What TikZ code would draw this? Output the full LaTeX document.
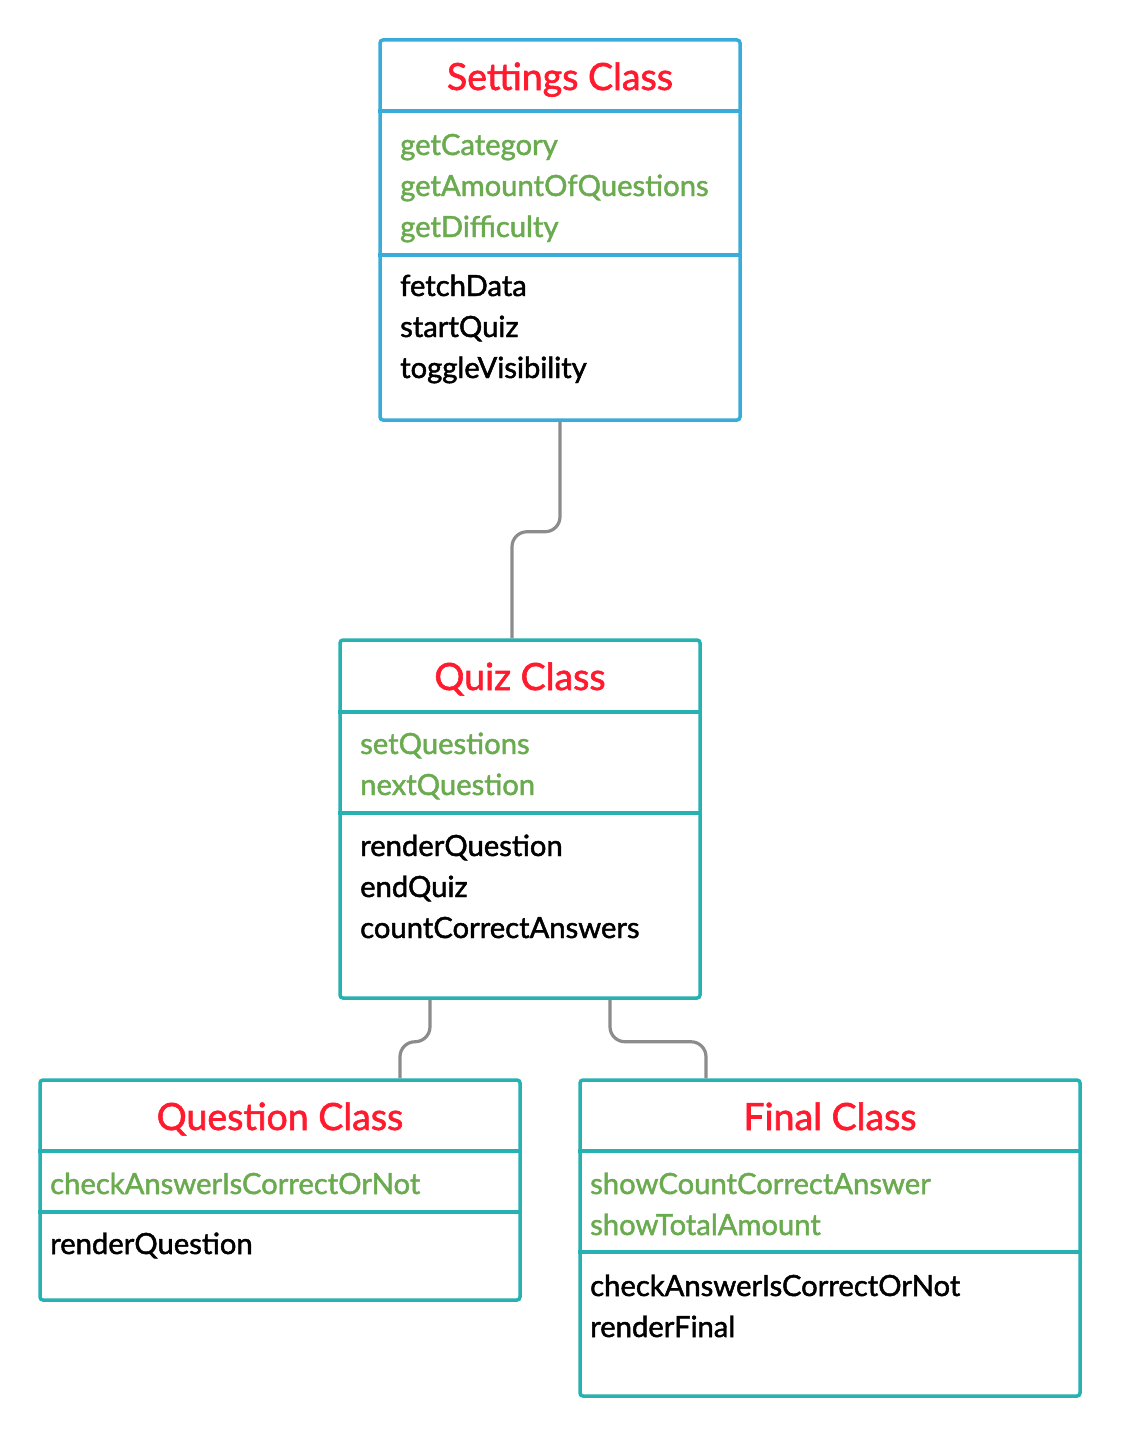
\documentclass[tikz,border=0pt]{standalone}
\usepackage{fontspec}
\setmainfont{Lato}
\newfontfamily\membfont{Lato}[FakeBold = 1.6]
\usepackage{xcolor}
\usetikzlibrary{calc}

\definecolor{setblue}{HTML}{3AACD9}
\definecolor{clsteal}{HTML}{27B1B1}
\definecolor{titlered}{HTML}{FF1A2E}
\definecolor{propgreen}{HTML}{6AAB4F}
\definecolor{linkgray}{HTML}{8C8C8C}

\tikzset{
	classbox/.style = {rectangle, draw = clsteal, line width = 3.5pt, rounded corners = 3pt, inner sep = 0pt},
	divider/.style = {draw = clsteal, line width = 3.5pt},
	title/.style = {anchor = base, text = titlered, font = \membfont\fontsize{37.5}{44}\selectfont, inner sep = 0pt},
	prop/.style = {anchor = base west, text = propgreen, font = \membfont\fontsize{29.2}{33}\selectfont, inner sep = 0pt},
	meth/.style = {anchor = base west, text = black, font = \membfont\fontsize{29.2}{33}\selectfont, inner sep = 0pt},
	link/.style = {draw = linkgray, line width = 3.2pt, rounded corners = 15pt}
}

\begin{document}
\begin{tikzpicture}[x = 1pt, y = -1pt]
	\useasboundingbox (0, 0) rectangle (1121, 1437);
	
	% boxes
	\node (settings) [classbox, draw = setblue, minimum width = 360pt, minimum height = 380pt] at (560, 230) {};
	\node (quiz) [classbox, minimum width = 360pt, minimum height = 358pt] at (520, 819) {};
	\node (question) [classbox, minimum width = 480pt, minimum height = 220pt] at (280, 1190) {};
	\node (final) [classbox, minimum width = 500pt, minimum height = 316pt] at (830, 1238) {};
	
	% dividers
	\draw [divider, draw = setblue] (settings.west |- 0, 111) -- (settings.east |- 0, 111);
	\draw [divider, draw = setblue] (settings.west |- 0, 255) -- (settings.east |- 0, 255);
	\draw [divider] (quiz.west |- 0, 712) -- (quiz.east |- 0, 712);
	\draw [divider] (quiz.west |- 0, 813) -- (quiz.east |- 0, 813);
	\draw [divider] (question.west |- 0, 1151) -- (question.east |- 0, 1151);
	\draw [divider] (question.west |- 0, 1212) -- (question.east |- 0, 1212);
	\draw [divider] (final.west |- 0, 1151) -- (final.east |- 0, 1151);
	\draw [divider] (final.west |- 0, 1252) -- (final.east |- 0, 1252);
	
	% Settings Class
	\node (settings-t) [title] at (560, 90) {Settings Class};
	\foreach \txt [count = \i from 0] in {getCategory, getAmountOfQuestions, getDifficulty}
		\node (settings-p\i) [prop] at (400, 155 + 41*\i) {\txt};
	\foreach \txt [count = \i from 0] in {fetchData, startQuiz, toggleVisibility}
		\node (settings-m\i) [meth] at (400, 296 + 41*\i) {\txt};
	
	% Quiz Class
	\node (quiz-t) [title] at (520, 690) {Quiz Class};
	\foreach \txt [count = \i from 0] in {setQuestions, nextQuestion}
		\node (quiz-p\i) [prop] at (360, 754 + 41*\i) {\txt};
	\foreach \txt [count = \i from 0] in {renderQuestion, endQuiz, countCorrectAnswers}
		\node (quiz-m\i) [meth] at (360, 856 + 41*\i) {\txt};
	
	% Question Class
	\node (question-t) [title] at (280, 1130) {Question Class};
	\node (question-p0) [prop] at (50, 1194) {checkAnswerIsCorrectOrNot};
	\node (question-m0) [meth] at (50, 1254) {renderQuestion};
	
	% Final Class
	\node (final-t) [title] at (830, 1130) {Final Class};
	\foreach \txt [count = \i from 0] in {showCountCorrectAnswer, showTotalAmount}
		\node (final-p\i) [prop] at (590, 1194 + 41*\i) {\txt};
	\foreach \txt [count = \i from 0] in {checkAnswerIsCorrectOrNot, renderFinal}
		\node (final-m\i) [meth] at (590, 1296 + 41*\i) {\txt};
	
	% connectors
	\coordinate (quiz-in) at ($(quiz.north) + (-8, 0)$);
	\coordinate (quiz-outl) at ($(quiz.south) + (-90, 0)$);
	\coordinate (quiz-outr) at ($(quiz.south) + (90, 0)$);
	\coordinate (question-in) at ($(question.north) + (120, 0)$);
	\coordinate (final-in) at ($(final.north) + (-124, 0)$);
	
	\draw [link] (settings.south) -- ++(0, 110) -| (quiz-in);
	\draw [link] (quiz-outl) -- ++(0, 42) -| (question-in);
	\draw [link] (quiz-outr) -- ++(0, 42) -| (final-in);
\end{tikzpicture}
\end{document}
